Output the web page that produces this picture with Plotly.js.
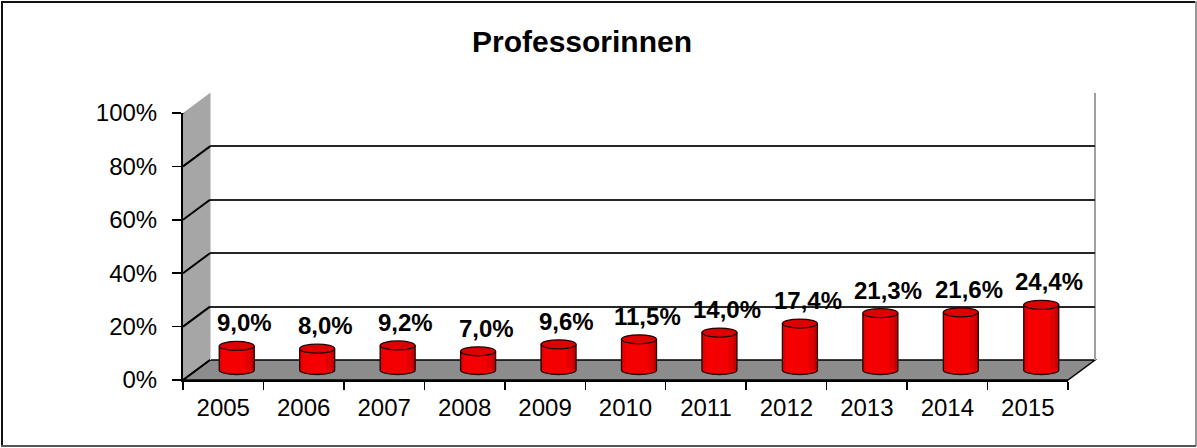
<!DOCTYPE html>
<html>
<head>
<meta charset="utf-8">
<script src="https://cdn.plot.ly/plotly-3.0.1.min.js"></script>
<style>
html,body{margin:0;padding:0;background:#fff;}
#chart{width:1197px;height:448px;}
</style>
</head>
<body>
<div id="chart"></div>
<script>
// ---- data ----
const years = ['2005','2006','2007','2008','2009','2010','2011','2012','2013','2014','2015'];
const values = [9.0, 8.0, 9.2, 7.0, 9.6, 11.5, 14.0, 17.4, 21.3, 21.6, 24.4];
const yTickVals = [0, 20, 40, 60, 80, 100];
const yTickText = ['0%', '20%', '40%', '60%', '80%', '100%'];
const chartTitle = 'Professorinnen';

// ---- geometry (pixels) ----
const W = 1197, H = 448;
const L = 183, R = 1068, B = 380, T = 113;   // front frame
const DX = 27, DY = 20;                        // depth offset
const pxPerUnit = (B - T) / 100;
const px = x => x / W;
const py = y => 1 - y / H;
const FONT = 'Liberation Sans, Arial, sans-serif';

const idx = years.map((_, i) => i);
const labels = values.map(v => v.toFixed(1).replace('.', ',') + '%');

// bars subplot ranges (extended below zero so caps are not clipped)
const yMin2 = -10;
const a = 17.5;                 // cylinder half width (px)
const bPx = 4.5;                // ellipse half height (px)
const b = bPx / pxPerUnit;      // in data units
const k = 0.5523;

const traces = [
  // back wall (gridlines)
  {type: 'scatter', x: idx, y: values, xaxis: 'x', yaxis: 'y', mode: 'none', hoverinfo: 'skip', showlegend: false},
  // cylinder bodies
  {type: 'bar', x: idx, y: values, xaxis: 'x2', yaxis: 'y2', width: 0.435,
   marker: {color: '#f50000', line: {width: 0}}, hoverinfo: 'skip', showlegend: false},
  // front axes
  {type: 'scatter', x: years, y: values, xaxis: 'x3', yaxis: 'y3', mode: 'none', hoverinfo: 'skip', showlegend: false}
];

const shapes = [];
// side wall
shapes.push({type: 'path', xref: 'paper', yref: 'paper', layer: 'below',
  path: `M ${px(L)},${py(T)} L ${px(L+DX)},${py(T-DY)} L ${px(L+DX)},${py(B-DY)} L ${px(L)},${py(B)} Z`,
  fillcolor: '#a6a6a6', line: {width: 0}});
// floor
shapes.push({type: 'path', xref: 'paper', yref: 'paper', layer: 'below',
  path: `M ${px(L)},${py(B)} L ${px(L+DX)},${py(B-DY)} L ${px(R+DX)},${py(B-DY)} L ${px(R)},${py(B)} Z`,
  fillcolor: '#8c8c8c', line: {color: '#000', width: 1.5}});
// back wall right edge
shapes.push({type: 'line', xref: 'paper', yref: 'paper', layer: 'below',
  x0: px(R+DX), x1: px(R+DX), y0: py(T-DY), y1: py(B-DY), line: {color: '#a0a0a0', width: 2}});
// back wall left edge highlight
shapes.push({type: 'line', xref: 'paper', yref: 'paper', layer: 'below',
  x0: px(L+DX+0.5), x1: px(L+DX+0.5), y0: py(T-DY), y1: py(B-DY), line: {color: '#d0d0d0', width: 1}});
// diagonals across the side wall at each tick
yTickVals.forEach(v => {
  shapes.push({type: 'line', xref: 'paper', yref: 'y3', ysizemode: 'pixel', yanchor: v,
    x0: px(L), x1: px(L+DX), y0: 0, y1: DY, line: {color: '#000', width: 2}, layer: 'above'});
});
// cylinders
values.forEach((v, i) => {
  const cap = `M ${-a},0 C ${-a},${-k*b} ${-k*a},${-b} 0,${-b} C ${k*a},${-b} ${a},${-k*b} ${a},0 Z`;
  shapes.push({type: 'path', xref: 'x2', yref: 'y2', xsizemode: 'pixel', xanchor: i,
    path: cap, fillcolor: '#f50000', line: {width: 0}, layer: 'above'});
  // shading strips
  shapes.push({type: 'rect', xref: 'x2', yref: 'y2', xsizemode: 'pixel', xanchor: i,
    x0: a*0.5, x1: a, y0: 0, y1: v, fillcolor: 'rgba(90,0,0,0.14)', line: {width: 0}, layer: 'above'});
  shapes.push({type: 'rect', xref: 'x2', yref: 'y2', xsizemode: 'pixel', xanchor: i,
    x0: a*0.8, x1: a, y0: 0, y1: v, fillcolor: 'rgba(90,0,0,0.18)', line: {width: 0}, layer: 'above'});
  shapes.push({type: 'rect', xref: 'x2', yref: 'y2', xsizemode: 'pixel', xanchor: i,
    x0: -a, x1: -a*0.82, y0: 0, y1: v, fillcolor: 'rgba(90,0,0,0.12)', line: {width: 0}, layer: 'above'});
  const outline = `M ${-a},${v} L ${-a},0 C ${-a},${-k*b} ${-k*a},${-b} 0,${-b} C ${k*a},${-b} ${a},${-k*b} ${a},0 L ${a},${v}`;
  shapes.push({type: 'path', xref: 'x2', yref: 'y2', xsizemode: 'pixel', xanchor: i,
    path: outline, fillcolor: 'rgba(0,0,0,0)', line: {color: '#200000', width: 1.3}, layer: 'above'});
  shapes.push({type: 'circle', xref: 'x2', yref: 'y2', xsizemode: 'pixel', xanchor: i,
    x0: -a, x1: a, y0: v - b, y1: v + b, fillcolor: '#dc0000', line: {color: '#200000', width: 1.3}, layer: 'above'});
});
// outer border
shapes.push({type: 'line', xref: 'paper', yref: 'paper', x0: px(1), x1: px(1196), y0: py(2), y1: py(2), line: {color: '#111', width: 2}});
shapes.push({type: 'line', xref: 'paper', yref: 'paper', x0: px(2), x1: px(2), y0: py(1), y1: py(446), line: {color: '#111', width: 2}});
shapes.push({type: 'line', xref: 'paper', yref: 'paper', x0: px(1196), x1: px(1196), y0: py(1), y1: py(446), line: {color: '#999', width: 2}});
shapes.push({type: 'line', xref: 'paper', yref: 'paper', x0: px(1), x1: px(1196), y0: py(446), y1: py(446), line: {color: '#555', width: 2}});

const annotations = values.map((v, i) => ({
  xref: 'x2', yref: 'y2', x: i, y: v, yshift: 23, xshift: 8, text: '<b>' + labels[i] + '</b>',
  showarrow: false, font: {family: FONT, size: 24, color: '#000'}, xanchor: 'center', yanchor: 'middle'
}));

const layout = {
  width: W, height: H,
  margin: {l: 0, r: 0, t: 0, b: 0, pad: 0},
  paper_bgcolor: '#ffffff',
  plot_bgcolor: 'rgba(0,0,0,0)',
  showlegend: false,
  title: {text: '<b>' + chartTitle + '</b>', font: {family: FONT, size: 30, color: '#000'},
          x: 582 / W, xanchor: 'center', xref: 'paper', y: py(41), yanchor: 'middle', yref: 'paper'},
  // back wall
  xaxis: {domain: [px(L+DX), px(R+DX)], anchor: 'y', range: [-0.5, 10.5], showgrid: false, zeroline: false,
          showticklabels: false, ticks: '', showline: false, fixedrange: true},
  yaxis: {domain: [py(B-DY), py(T-DY)], anchor: 'x', range: [0, 100], tickvals: yTickVals, showgrid: true,
          gridcolor: '#262626', gridwidth: 2, zeroline: false, showticklabels: false, ticks: '', showline: false, fixedrange: true},
  // bars (mid depth)
  xaxis2: {domain: [px(L+DX/2), px(R+DX/2)], anchor: 'y2', range: [-0.5, 10.5], visible: false, fixedrange: true},
  yaxis2: {domain: [py(B-DY/2 + (-yMin2)*pxPerUnit), py(T-DY/2)], anchor: 'x2', range: [yMin2, 100], visible: false, fixedrange: true},
  // front axes
  xaxis3: {domain: [px(L), px(R)], anchor: 'y3', type: 'category', categoryarray: years, range: [-0.5, 10.5],
           tickson: 'boundaries', ticks: 'outside', ticklen: 8, tickwidth: 1.5, tickcolor: '#000', ticklabelstandoff: 5,
           showline: true, linecolor: '#000', linewidth: 2, showgrid: false, zeroline: false,
           tickfont: {family: FONT, size: 24, color: '#000'}, fixedrange: true},
  yaxis3: {domain: [py(B), py(T)], anchor: 'x3', range: [0, 100], tickvals: yTickVals, ticktext: yTickText,
           ticks: 'outside', ticklen: 9, tickwidth: 1.5, tickcolor: '#000', ticklabelstandoff: 10,
           showline: true, linecolor: '#000', linewidth: 2, showgrid: false, zeroline: false,
           tickfont: {family: FONT, size: 24, color: '#000'}, fixedrange: true},
  shapes: shapes,
  annotations: annotations
};

Plotly.newPlot('chart', traces, layout, {displayModeBar: false, staticPlot: true});
</script>
</body>
</html>
